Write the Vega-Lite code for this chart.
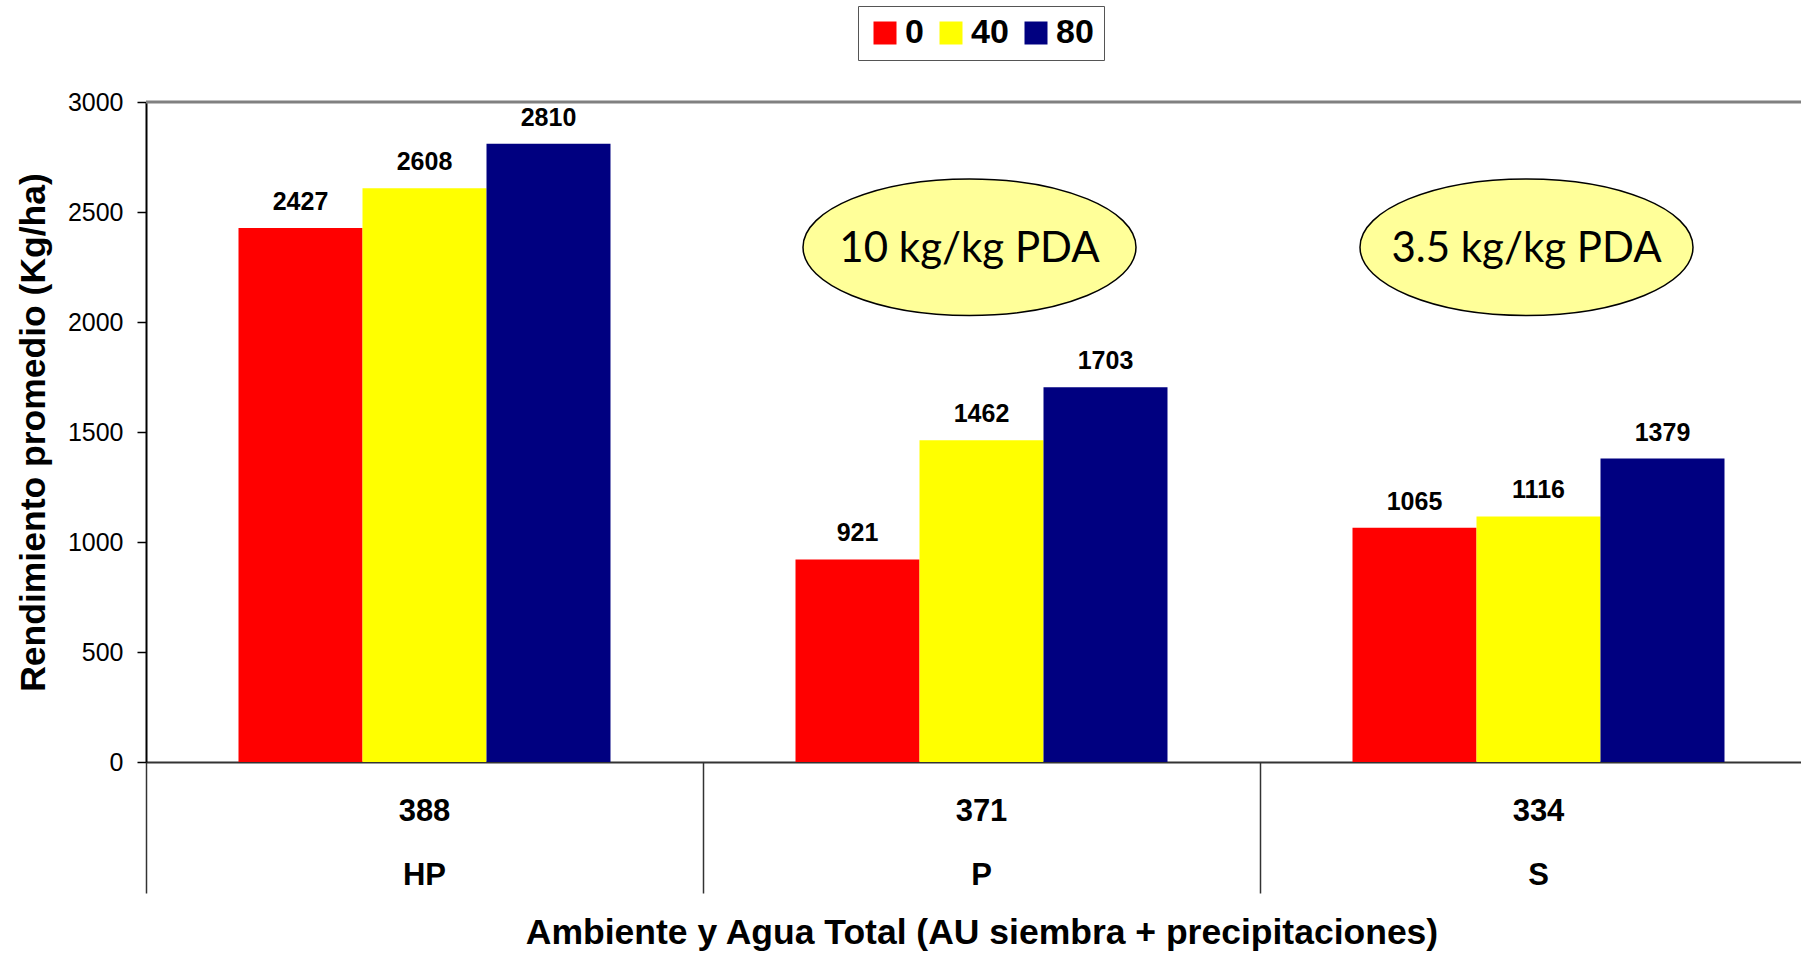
{
  "$schema": "https://vega.github.io/schema/vega-lite/v6.json",
  "width": 1655,
  "height": 660,
  "autosize": {"type": "none"},
  "padding": {"left": 146, "top": 102, "right": 0, "bottom": 191},
  "background": "white",
  "config": {
    "view": {"stroke": null},
    "font": "Liberation Sans",
    "axis": {"grid": false}
  },
  "datasets": {
    "barras": [
      {"grupo": "388|HP", "serie": "0", "valor": 2427},
      {"grupo": "388|HP", "serie": "40", "valor": 2608},
      {"grupo": "388|HP", "serie": "80", "valor": 2810},
      {"grupo": "371|P", "serie": "0", "valor": 921},
      {"grupo": "371|P", "serie": "40", "valor": 1462},
      {"grupo": "371|P", "serie": "80", "valor": 1703},
      {"grupo": "334|S", "serie": "0", "valor": 1065},
      {"grupo": "334|S", "serie": "40", "valor": 1116},
      {"grupo": "334|S", "serie": "80", "valor": 1379}
    ],
    "globos": [
      {"grupo": "371|P", "texto": "10 kg/kg PDA", "valor": 2340},
      {"grupo": "334|S", "texto": "3.5 kg/kg PDA", "valor": 2340}
    ]
  },
  "layer": [
    {
      "data": {"name": "barras"},
      "mark": {"type": "bar"},
      "encoding": {
        "x": {
          "field": "grupo",
          "type": "nominal",
          "sort": ["388|HP", "371|P", "334|S"],
          "scale": {"range": [0, 1671], "paddingInner": 0, "paddingOuter": 0},
          "axis": {
            "title": "Ambiente y Agua Total (AU siembra + precipitaciones)",
            "bandPosition": 0,
            "tickSize": 131,
            "tickColor": "#333333",
            "tickWidth": 1.5,
            "domainColor": "#333333",
            "domainWidth": 2,
            "labelExpr": "split(datum.label, '|')",
            "labelAngle": 0,
            "labelAlign": "center",
            "labelBaseline": "top",
            "labelLineHeight": 64,
            "labelPadding": -97,
            "labelDx": 278.5,
            "labelOverlap": false,
            "labelBound": false,
            "labelFlush": false,
            "labelFont": "Liberation Sans",
            "labelFontWeight": "bold",
            "labelFontSize": 31,
            "labelColor": "black",
            "titleFont": "Liberation Sans",
            "titleFontSize": 35.5,
            "titleFontWeight": "bold",
            "titlePadding": 22,
            "titleColor": "black"
          }
        },
        "xOffset": {
          "field": "serie",
          "type": "nominal",
          "sort": ["0", "40", "80"],
          "scale": {"paddingInner": 0, "paddingOuter": 0.746}
        },
        "y": {
          "field": "valor",
          "type": "quantitative",
          "scale": {"domain": [0, 3000], "nice": false},
          "axis": {
            "title": "Rendimiento promedio (Kg/ha)",
            "values": [0, 500, 1000, 1500, 2000, 2500, 3000],
            "format": "d",
            "tickSize": 9,
            "tickColor": "black",
            "tickWidth": 1.5,
            "domainColor": "black",
            "domainWidth": 2,
            "labelFont": "Liberation Sans",
            "labelFontSize": 25,
            "labelColor": "black",
            "labelPadding": 14,
            "titleFont": "Liberation Sans",
            "titleFontSize": 35.5,
            "titleFontWeight": "bold",
            "titlePadding": 16,
            "titleColor": "black"
          }
        },
        "color": {
          "field": "serie",
          "type": "nominal",
          "sort": ["0", "40", "80"],
          "scale": {"domain": ["0", "40", "80"], "range": ["#FF0000", "#FFFF00", "#000080"]},
          "legend": {
            "title": null,
            "orient": "none",
            "legendX": 712,
            "legendY": -96,
            "direction": "horizontal",
            "symbolType": "square",
            "symbolSize": 529,
            "symbolStrokeWidth": 0,
            "symbolOpacity": 1,
            "labelFont": "Liberation Sans",
            "labelFontSize": 34,
            "labelFontWeight": "bold",
            "labelColor": "black",
            "labelOffset": 3,
            "columnPadding": 10,
            "padding": 10,
            "strokeColor": "#555555",
            "fillColor": "white"
          }
        }
      }
    },
    {
      "data": {"name": "barras"},
      "mark": {"type": "text", "baseline": "alphabetic", "dy": -18, "font": "Liberation Sans", "fontSize": 25, "fontWeight": "bold", "color": "black"},
      "encoding": {
        "x": {"field": "grupo", "type": "nominal", "sort": ["388|HP", "371|P", "334|S"]},
        "xOffset": {"field": "serie", "type": "nominal", "sort": ["0", "40", "80"]},
        "y": {"field": "valor", "type": "quantitative"},
        "text": {"field": "valor", "type": "quantitative", "format": "d"}
      }
    },
    {
      "data": {"values": [{}]},
      "mark": {"type": "rule", "color": "#808080", "strokeWidth": 3},
      "encoding": {"y": {"datum": 3000, "type": "quantitative"}}
    },
    {
      "data": {"name": "globos"},
      "mark": {
        "type": "point",
        "shape": "M -1 0 A 1 0.41 0 1 1 1 0 A 1 0.41 0 1 1 -1 0 Z",
        "size": 110889,
        "filled": true,
        "fill": "#FFFF99",
        "stroke": "black",
        "strokeWidth": 1.5,
        "opacity": 1,
        "fillOpacity": 1,
        "xOffset": -12
      },
      "encoding": {
        "x": {"field": "grupo", "type": "nominal", "sort": ["388|HP", "371|P", "334|S"]},
        "y": {"field": "valor", "type": "quantitative"}
      }
    },
    {
      "data": {"name": "globos"},
      "mark": {"type": "text", "baseline": "middle", "align": "center", "font": "Lato", "fontSize": 42, "color": "black", "dx": -12, "dy": 2},
      "encoding": {
        "x": {"field": "grupo", "type": "nominal", "sort": ["388|HP", "371|P", "334|S"]},
        "y": {"field": "valor", "type": "quantitative"},
        "text": {"field": "texto", "type": "nominal"}
      }
    }
  ]
}
